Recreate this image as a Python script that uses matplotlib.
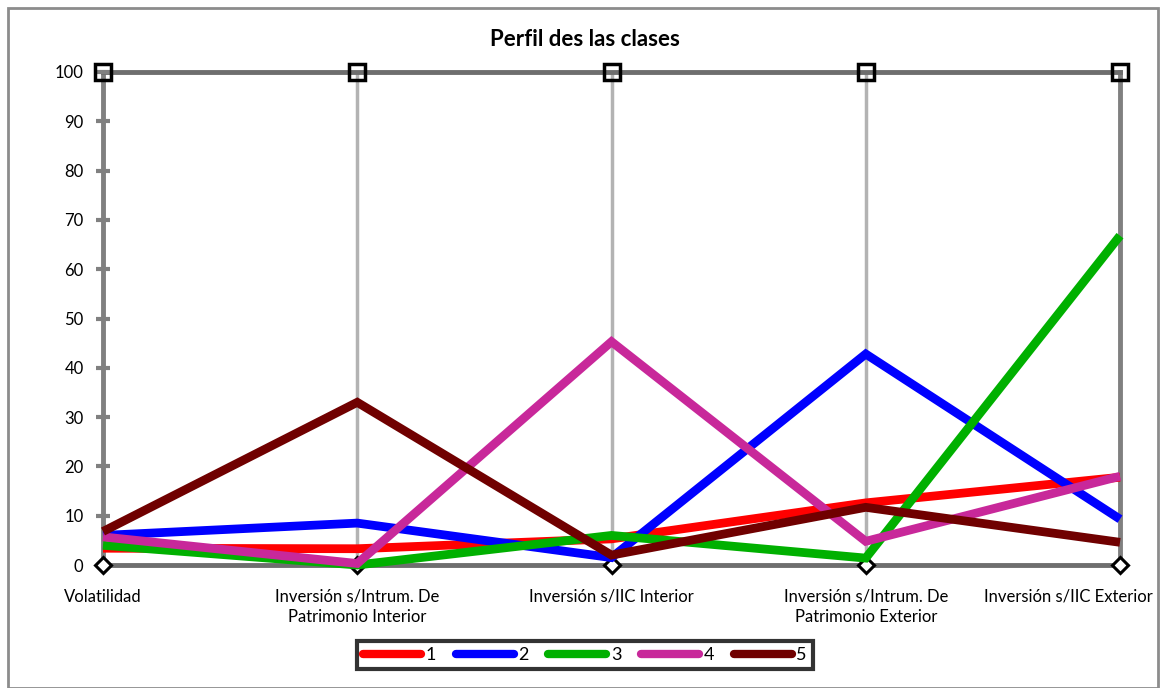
import matplotlib
matplotlib.use("Agg")
import matplotlib.pyplot as plt
from matplotlib.patches import Rectangle
from matplotlib.transforms import offset_copy

plt.rcParams['font.family'] = ['Lato', 'DejaVu Sans']

categories = ["Volatilidad", "Inversión s/Intrum. De\nPatrimonio Interior", "Inversión s/IIC Interior",
              "Inversión s/Intrum. De\nPatrimonio Exterior", "Inversión s/IIC Exterior"]
series_names = ["1", "2", "3", "4", "5"]
s1 = [3.4, 3.3, 5.3, 12.6, 17.8]
s2 = [6.0, 8.5, 1.5, 42.8, 9.3]
s3 = [4.0, 0.0, 6.0, 1.4, 66.8]
s4 = [5.7, 0.3, 45.3, 4.8, 18.0]
s5 = [6.8, 33.0, 2.0, 11.7, 4.6]
series = [s1, s2, s3, s4, s5]
colors = ["#ff0000", "#0000ff", "#00b000", "#c8289a", "#700000"]
yticks = [0, 10, 20, 30, 40, 50, 60, 70, 80, 90, 100]

fig = plt.figure(figsize=(11.63, 6.88), dpi=100)
fig.patches.append(Rectangle((8/1163, 0.0), 1150/1163, 680/688, transform=fig.transFigure,
                             fill=False, edgecolor="#8c8c8c", linewidth=2))
ax = fig.add_axes([103/1163, 1-565/688, 1017/1163, 493/688])
x = list(range(len(categories)))

for sp in ax.spines.values():
    sp.set_visible(False)

# axis frame lines
for i in x[1:4]:
    ax.plot([i, i], [0, 100], color="#b3b3b3", lw=2.5, zorder=1)
ax.plot([4, 4], [0, 100], color="#808080", lw=3.5, zorder=1, clip_on=False)
ax.plot([0, 0], [0, 100], color="#808080", lw=3.5, zorder=1, clip_on=False)
ax.plot([0, 4], [0, 0], color="#6e6e6e", lw=3.5, zorder=1, clip_on=False)
ax.plot([0, 4], [100, 100], color="#6e6e6e", lw=3.5, zorder=1, clip_on=False)

lines = []
for vals, c, n in zip(series, colors, series_names):
    l, = ax.plot(x, vals, color=c, lw=6.3, label=n, zorder=3, clip_on=False,
                 solid_capstyle='butt', solid_joinstyle='miter')
    lines.append(l)

ax.plot(x, [0]*5, linestyle='none', marker='D', ms=8, mfc='white', mec='black', mew=2.2,
        zorder=2, clip_on=False)
ax.plot(x, [100]*5, linestyle='none', marker='s', ms=12, mfc='none', mec='black', mew=2.5,
        zorder=4, clip_on=False)

ax.set_xlim(0, 4)
ax.set_ylim(0, 100)
ax.set_yticks(yticks)
ax.set_yticklabels([str(v) for v in yticks], fontsize=12)
ax.tick_params(axis='y', direction='inout', length=10, width=3, color="#808080", pad=9)
ax.set_xticks(x)
ax.set_xticklabels(categories, fontsize=12, linespacing=1.35)
ax.tick_params(axis='x', length=0, pad=17)
xl = ax.get_xticklabels()
for t in xl:
    t.set_verticalalignment('top')
last = xl[-1]
last.set_horizontalalignment('right')
last.set_transform(offset_copy(last.get_transform(), fig=fig, x=33, y=0, units='dots'))

fig.text(585/1163, 1-40/688, "Perfil des las clases", ha='center', va='center',
         fontsize=16, fontweight='bold')

leg = fig.legend(handles=lines, labels=series_names, loc='center', ncol=5,
                 bbox_to_anchor=(585/1163, 1-655/688), fontsize=13, frameon=True,
                 fancybox=False, handlelength=3.2, handletextpad=0.25, columnspacing=1.1,
                 borderpad=0.35)
leg.get_frame().set_edgecolor('black')
leg.get_frame().set_linewidth(3)
for h in leg.get_lines():
    h.set_linewidth(6)
    h.set_solid_capstyle('round')

fig.savefig("out.png", dpi=100)
